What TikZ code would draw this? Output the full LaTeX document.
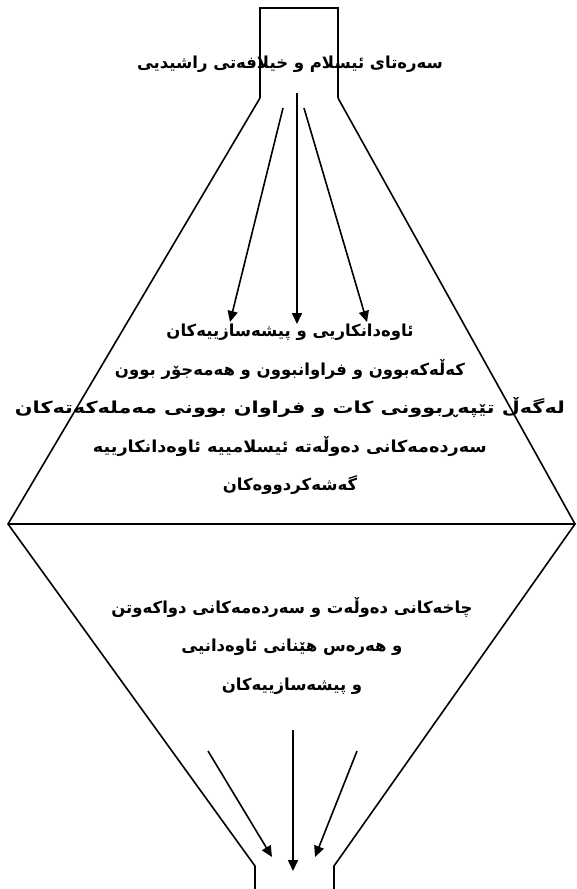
\documentclass[tikz,border=0pt]{standalone}
\usepackage{fontspec}
\usepackage{graphicx}
\usetikzlibrary{arrows.meta}
\TeXXeTstate=1
\newfontfamily\arabicfont[Script=Arabic]{DejaVu Sans}
\tikzset{
  funnel/.style={line width=1.6pt, line join=miter},
  flow/.style={line width=1.6pt, -{Triangle[length=11pt,width=10pt]}},
  label/.style={font=\arabicfont\bfseries\fontsize{16.5}{38.5}\selectfont, align=center, inner sep=0pt}
}
\begin{document}
\begin{tikzpicture}[x=1pt,y=-1pt]
\useasboundingbox (0,0) rectangle (577,889);
% funnel outline
\coordinate (tl) at (260,8);
\coordinate (tr) at (338,8);
\coordinate (ntl) at (260,98);
\coordinate (ntr) at (338,98);
\coordinate (wl) at (8,524);
\coordinate (wr) at (575,524);
\coordinate (nbl) at (255,866);
\coordinate (nbr) at (334,866);
\coordinate (bl) at (255,889);
\coordinate (br) at (334,889);
\draw[funnel] (ntl) -- (tl) -- (tr) -- (ntr);
\draw[funnel] (ntl) -- (wl) -- (nbl) -- (bl);
\draw[funnel] (ntr) -- (wr) -- (nbr) -- (br);
\draw[funnel] (wl) -- (wr);
% texts
\node[label] (title) at (290,64) {\beginR سەرەتای ئیسلام و خیلافەتی راشیدیی\endR};
\node[label, anchor=north] (mid) at (290,324) {\beginR ئاوەدانکاریی و پیشەسازییەکان\endR\\
\beginR کەڵەکەبوون و فراوانبوون و هەمەجۆر بوون\endR\\
\resizebox{550pt}{\height}{\beginR لەگەڵ تێپەڕبوونی کات و فراوان بوونی مەملەکەتەکان\endR}\\
\resizebox{394pt}{\height}{\beginR سەردەمەکانی دەوڵەتە ئیسلامییە ئاوەدانکارییە\endR}\\
\beginR گەشەکردووەکان\endR};
\node[label, anchor=north] (low) at (292,597) {\beginR چاخەکانی دەوڵەت و سەردەمەکانی دواکەوتن\endR\\
\beginR و هەرەس هێنانی ئاوەدانیی\endR\\
\beginR و پیشەسازییەکان\endR};
% top arrows
\coordinate (a1s) at (283,108); \coordinate (a1e) at (230,322);
\coordinate (a2s) at (297,93);  \coordinate (a2e) at (297,324);
\coordinate (a3s) at (304,108); \coordinate (a3e) at (367,322);
\draw[flow] (a1s) -- (a1e);
\draw[flow] (a2s) -- (a2e);
\draw[flow] (a3s) -- (a3e);
% bottom arrows
\coordinate (b1s) at (208,751); \coordinate (b1e) at (272,857);
\coordinate (b2s) at (293,730); \coordinate (b2e) at (293,871);
\coordinate (b3s) at (357,751); \coordinate (b3e) at (315,857);
\draw[flow] (b1s) -- (b1e);
\draw[flow] (b2s) -- (b2e);
\draw[flow] (b3s) -- (b3e);
\end{tikzpicture}
\end{document}
